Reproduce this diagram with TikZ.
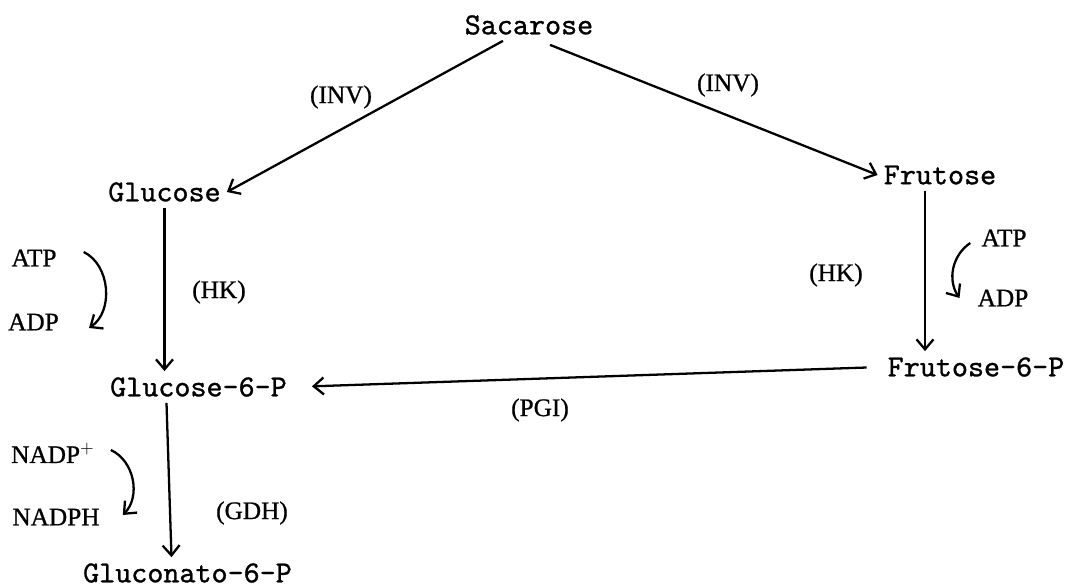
\documentclass[tikz,border=0pt]{standalone}
\usepackage{fontspec}
\newfontfamily\metfont{lmmono10-regular.otf}[FakeBold=1]
\newfontfamily\enzfont{Liberation Serif}[FakeBold=0.8]
\usetikzlibrary{arrows.meta,calc}

\begin{document}
\begin{tikzpicture}[x=0.02cm,y=-0.02cm,
    met/.style={font=\metfont\fontsize{17.4}{20}\selectfont},
    enz/.style={font=\enzfont\fontsize{14.4}{17}\selectfont},
    rxn/.style={-{Straight Barb[length=2mm,width=3.4mm,line width=1.3pt]},line width=1.3pt}]
    \useasboundingbox (0,0) rectangle (1069,587);

    % Metabolitos
    \node[met] (sac) at (529,25) {Sacarose};
    \node[met] (glc) at (164.5,192) {Glucose};
    \node[met] (frt) at (940,175) {Frutose};
    \node[met] (g6p) at (198.5,387) {Glucose-6-P};
    \node[met] (f6p) at (976,367) {Frutose-6-P};
    \node[met] (gcn) at (187.5,573) {Gluconato-6-P};

    % Enzimas
    \node[enz] (invG) at (341,97) {(INV)};
    \node[enz] (invF) at (728,85) {(INV)};
    \node[enz] (hkG) at (219,292) {(HK)};
    \node[enz] (hkF) at (836,275) {(HK)};
    \node[enz] (pgi) at (540,410) {(PGI)};
    \node[enz] (gdh) at (252,513) {(GDH)};

    % Cofatores
    \node[enz] (atpG) at (34,258) {ATP};
    \node[enz] (adpG) at (33.5,322) {ADP};
    \node[enz] (atpF) at (1004,238) {ATP};
    \node[enz] (adpF) at (1003,298) {ADP};
    \node[enz,anchor=base west] (nadp) at (5,463) {NADP$^{+}$};
    \node[enz] (nadph) at (56,517) {NADPH};

    % Reacoes
    \draw[rxn] ($(sac.south)+(-26,0)$) -- (glc.east);
    \draw[rxn] ($(sac.south)+(21,4)$) -- (frt.west);
    \draw[rxn] (glc.south) -- (glc.south |- g6p.north);
    \coordinate (fA) at ($(frt.south)+(-15,0)$);
    \draw[rxn] (fA) -- (fA |- f6p.north);
    \draw[rxn,shorten <=0.3cm,shorten >=0.38cm] (f6p.west) -- (g6p.east);
    \draw[rxn] ($(g6p.south -| glc.south)+(2,0)$) -- ($(gcn.north -| glc.south)+(7,0)$);

    % ATP/ADP e NADP
    \draw[rxn] ($(atpG.east)+(21,-6)$) to[bend left=60] ($(adpG.east)+(24,6)$);
    \draw[rxn] ($(atpF.west)+(-5,5)$) to[bend right=45] ($(adpF.west)+(-12,0)$);
    \draw[rxn] ($(nadp.base east)+(10,-13)$) to[bend left=55] ($(nadph.east)+(17,-2)$);
\end{tikzpicture}
\end{document}
